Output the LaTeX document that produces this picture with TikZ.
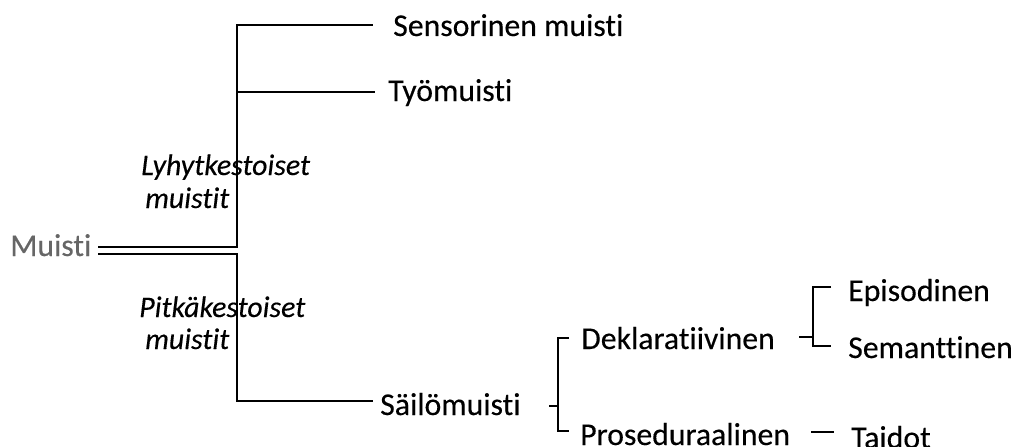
\documentclass[tikz,border=0pt]{standalone}
\usepackage{fontspec}
\setmainfont{Carlito}[Ligatures={NoCommon,NoContextual},Contextuals=NoAlternate,FakeBold=0.3]
\begin{document}
\begin{tikzpicture}[x=0.75pt,y=-0.75pt,
  lbl/.style={anchor=base west,inner sep=0pt,font=\fontsize{23.8}{28}\selectfont},
  grp/.style={anchor=base west,inner sep=0pt,font=\fontsize{22.4}{26}\selectfont\itshape},
  ln/.style={line width=1.3pt,black}]
\useasboundingbox (0,0) rectangle (1016,446);
% nodes
\node[lbl,text=black!60] (muisti) at (10,256) {Muisti};
\node[lbl] (sens) at (393,36) {Sensorinen muisti};
\node[lbl] (tyo) at (388,101) {Työmuisti};
\node[grp] (lyhyt1) at (141,175) {Lyhytkestoiset};
\node[grp] (lyhyt2) at (145,208) {muistit};
\node[grp] (pitka1) at (139,317) {Pitkäkestoiset};
\node[grp] (pitka2) at (145,349) {muistit};
\node[lbl] (sailo) at (380,415) {Säilömuisti};
\node[lbl] (dekl) at (581,349) {Deklaratiivinen};
\node[lbl] (pros) at (580,445) {Proseduraalinen};
\node[lbl] (epis) at (848,301) {Episodinen};
\node[lbl] (sem) at (848,358) {Semanttinen};
\node[lbl] (taid) at (851,448) {Taidot};
% junction coordinates
\coordinate (a0) at (98,247);
\coordinate (a1) at (237,247);
\coordinate (b0) at (98,254);
\coordinate (b1) at (237,254);
\coordinate (sensE) at (373,25);
\coordinate (tyoS) at (237,92);
\coordinate (tyoE) at (375,92);
\coordinate (sailoE) at (373,401);
% connectors
\draw[ln] (a0) -- (a1) |- (sensE);
\draw[ln] (tyoS) -- (tyoE);
\draw[ln] (b0) -- (b1) |- (sailoE);
% Sailomuisti bracket
\coordinate (s0) at (549,406);
\coordinate (s1) at (558,406);
\draw[ln] (s0) -- (s1);
\draw[ln] (569,338) -- (558,338) -- (558,431) -- (569,431);
% Deklaratiivinen bracket
\coordinate (d0) at (799,337);
\coordinate (d1) at (813,337);
\draw[ln] (d0) -- (d1);
\draw[ln] (831,287) -- (813,287) -- (813,346) -- (831,346);
% Taidot dash
\coordinate (t0) at (811,432);
\coordinate (t1) at (834,432);
\draw[ln] (t0) -- (t1);
\end{tikzpicture}
\end{document}
